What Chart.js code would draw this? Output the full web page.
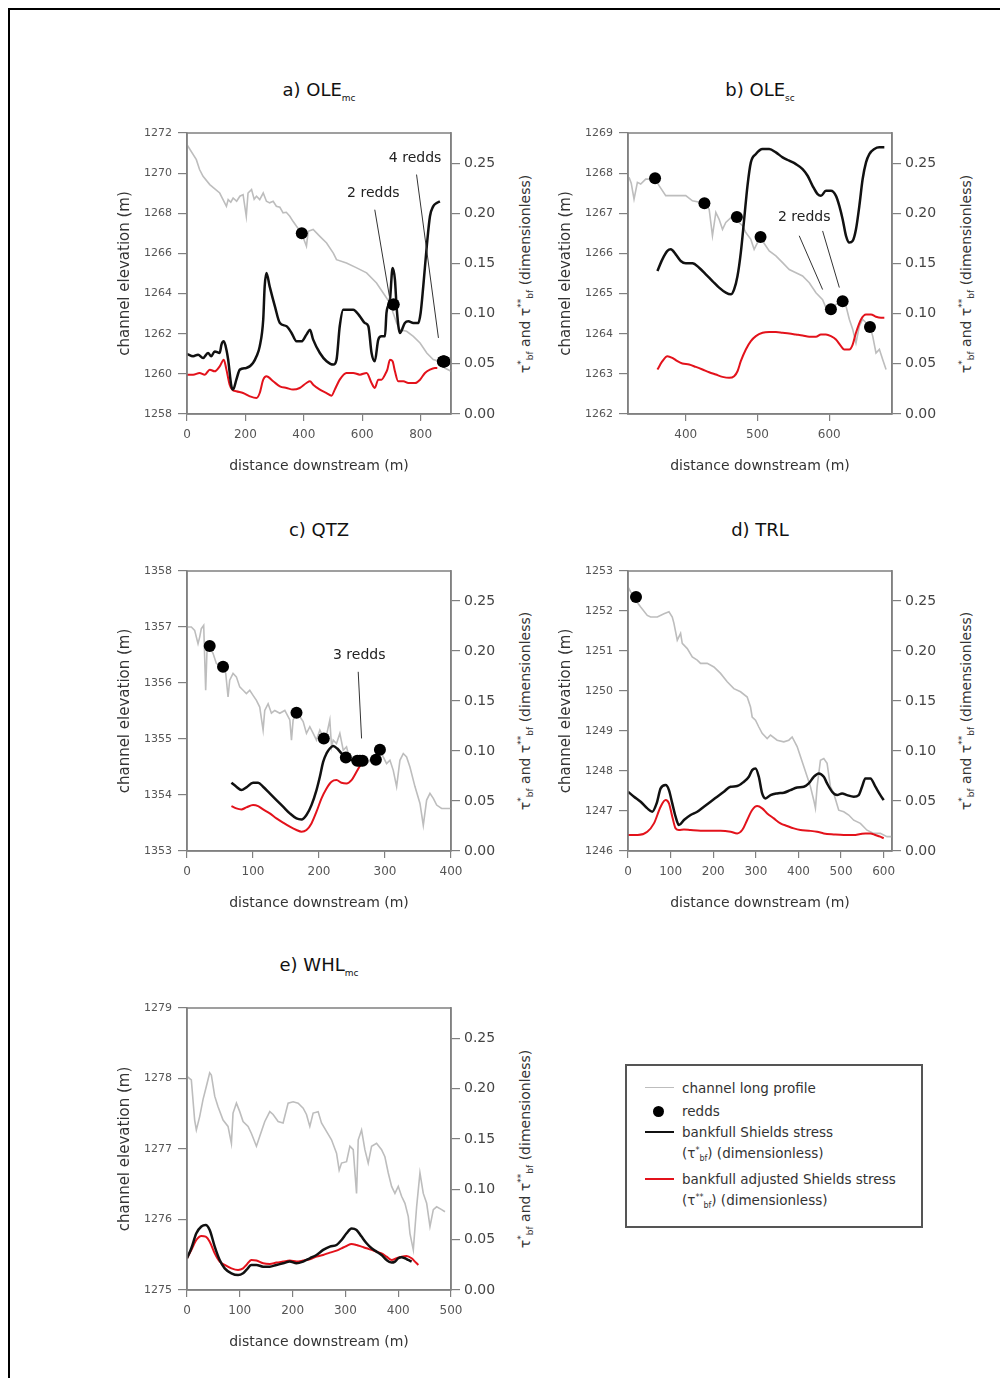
<!DOCTYPE html>
<html>
<head>
<meta charset="utf-8">
<script src="https://cdn.jsdelivr.net/npm/chart.js@4.4.0/dist/chart.umd.min.js"></script>
<style>
  body { margin: 0; background: #fff; width: 1000px; height: 1378px; overflow: hidden; position: relative; font-family: 'DejaVu Sans', sans-serif; color: #222; }
  .frame { position: absolute; left: 8px; top: 8px; width: 1000px; height: 1400px; border-left: 2px solid #000; border-top: 2px solid #000; }
  .ptitle { position: absolute; transform: translate(-50%, -50%); font-size: 18px; color: #111; white-space: nowrap; }
  .ptitle sub { font-size: 9px; vertical-align: -5px; }
  .rtitle { position: absolute; transform: translate(-50%, -50%) rotate(-90deg); font-size: 14px; color: #333; white-space: nowrap; }
  .rtitle sup { font-size: 9px; vertical-align: 6px; }
  .rtitle sub { font-size: 9px; vertical-align: -3px; }
  .legend { position: absolute; left: 625px; top: 1064px; width: 294px; height: 160px; border: 2px solid #555; }
  .legend .t { position: absolute; left: 55px; font-size: 13.5px; color: #333; white-space: nowrap; transform: translateY(-50%); }
  .legend .t sup { font-size: 8px; vertical-align: 5px; }
  .legend .t sub { font-size: 8px; vertical-align: -3px; }
  .legend .ln { position: absolute; left: 18px; width: 29px; height: 0; }
  .legend .dot { position: absolute; left: 26px; width: 11px; height: 11px; border-radius: 50%; background: #000; }
</style>
</head>
<body>
<div class="frame"></div>

<script>
// ---- a) OLE main channel ----
const aTicksX = [0, 200, 400, 600, 800];
const aTicksY = [1258, 1260, 1262, 1264, 1266, 1268, 1270, 1272];
const aProfile = [[0,1271.42],[32,1270.67],[43,1270.18],[55,1269.84],[78,1269.43],[112,1269.01],[135,1268.35],[141,1268.68],[150,1268.55],[158,1268.76],[170,1268.6],[181,1268.85],[192,1268.93],[203,1267.85],[209,1269.01],[221,1269.18],[230,1268.7],[238,1268.85],[249,1268.68],[261,1269.01],[272,1268.6],[283,1268.52],[295,1268.6],[306,1268.35],[318,1268.3],[329,1268.02],[340,1268.05],[352,1267.85],[363,1267.6],[375,1267.35],[392,1267.02],[409,1266.36],[415,1267.1],[432,1267.19],[455,1266.85],[478,1266.52],[501,1266.02],[512,1265.69],[546,1265.52],[581,1265.28],[615,1265.03],[649,1264.53],[672,1264.03],[695,1263.53],[706,1263.03],[718,1262.53],[729,1262.2],[752,1262.12],[775,1261.87],[798,1261.54],[821,1261.04],[843,1260.71],[866,1260.62],[883,1260.29],[904,1260.13]];
const aRedds = [[393,1267.0],[706,1263.45],[708,1263.45],[876,1260.62],[878,1260.62],[880,1260.62],[882,1260.62]];
const aShields = [[0,0.0598],[21,0.0575],[38,0.0591],[55,0.0558],[72,0.0608],[83,0.0575],[95,0.0624],[112,0.0608],[118,0.0691],[126,0.0724],[135,0.0641],[141,0.0541],[152,0.0276],[158,0.0243],[169,0.0342],[181,0.0442],[203,0.0458],[226,0.0508],[238,0.0575],[249,0.0674],[261,0.094],[266,0.1272],[272,0.1405],[283,0.1272],[301,0.1073],[318,0.0907],[341,0.0874],[358,0.0807],[375,0.0724],[392,0.0724],[409,0.0791],[421,0.084],[432,0.0741],[455,0.0608],[478,0.0525],[501,0.0492],[512,0.0541],[523,0.0874],[535,0.104],[569,0.104],[592,0.0973],[609,0.0907],[621,0.0874],[632,0.0608],[643,0.0525],[655,0.0741],[666,0.0774],[678,0.0774],[683,0.1006],[695,0.1139],[704,0.1455],[712,0.1339],[718,0.1056],[729,0.0807],[746,0.0907],[758,0.0923],[775,0.0907],[792,0.0907],[800,0.1006],[809,0.1272],[821,0.1671],[832,0.197],[843,0.2069],[855,0.2103],[866,0.2119]];
const aAdjusted = [[0,0.0392],[21,0.0392],[43,0.0409],[61,0.0392],[78,0.0442],[95,0.0425],[112,0.0475],[126,0.0541],[135,0.0442],[146,0.0292],[155,0.0243],[169,0.0226],[192,0.0209],[215,0.0176],[238,0.0159],[249,0.0209],[261,0.0342],[272,0.0375],[295,0.0326],[318,0.0276],[341,0.0259],[363,0.0243],[386,0.0259],[409,0.0309],[421,0.0326],[432,0.0292],[455,0.0243],[478,0.0209],[495,0.0183],[506,0.0243],[523,0.0342],[546,0.0409],[569,0.0409],[592,0.0392],[615,0.0409],[632,0.0309],[643,0.0259],[655,0.0342],[666,0.0342],[678,0.0392],[686,0.0442],[695,0.0541],[704,0.0525],[712,0.0425],[723,0.0326],[741,0.0326],[758,0.0309],[781,0.0309],[798,0.0342],[815,0.0409],[832,0.0442],[849,0.0458],[857,0.0458]];
const aNoteText = ['2 redds', '4 redds'];
const aNoteAt = [[638,1269.01],[781,1270.76]];
const aLeaders = [[[643,1268.18],[695,1263.7]], [[786,1269.93],[861,1261.79]]];

// ---- b) OLE side channel ----
const bTicksX = [400, 500, 600];
const bTicksY = [1262, 1263, 1264, 1265, 1266, 1267, 1268, 1269];
const bProfile = [[320.9,1267.9],[324,1267.75],[327.9,1267.35],[332.6,1267.77],[337.2,1267.73],[344.2,1267.85],[351.2,1267.85],[357.2,1267.87],[362.8,1267.69],[372.1,1267.44],[386,1267.44],[400,1267.44],[409.3,1267.31],[420.9,1267.27],[426,1267.25],[432.6,1267.1],[437.2,1266.44],[441.9,1267.02],[446.5,1266.85],[451.2,1266.6],[455.8,1266.77],[462.8,1266.89],[471.2,1266.91],[474.4,1266.77],[479.1,1266.69],[483.7,1266.52],[490.7,1266.35],[495.3,1266.1],[500,1266.27],[504.2,1266.41],[507,1266.31],[516.3,1266.06],[525.6,1265.94],[534.9,1265.77],[544.2,1265.6],[553.5,1265.52],[562.8,1265.44],[572.1,1265.27],[581.4,1265.02],[590.7,1264.85],[595.3,1264.65],[602.3,1264.61],[609.3,1264.73],[618.6,1264.81],[623.3,1264.69],[627.9,1264.36],[632.6,1264.11],[637.2,1263.77],[641.9,1264.19],[646.5,1264.36],[656.7,1264.17],[660.5,1263.94],[665.1,1263.52],[669.8,1263.61],[674.4,1263.36],[679.1,1263.11]];
const bRedds = [[357.2,1267.87],[426,1267.25],[471.2,1266.91],[504.2,1266.41],[602.3,1264.61],[618.6,1264.81],[656.7,1264.17]];
const bShields = [[360.5,0.1425],[367.4,0.1541],[374.4,0.1625],[379.1,0.1641],[386,0.1591],[393,0.1525],[400,0.1502],[409.3,0.1502],[418.6,0.1458],[427.9,0.1392],[437.2,0.1325],[446.5,0.1259],[455.8,0.1209],[462.8,0.1192],[467.4,0.1242],[472.1,0.1375],[476.7,0.1608],[481.4,0.1941],[486,0.2274],[490.7,0.2507],[497.7,0.259],[507,0.264],[516.3,0.264],[525.6,0.2607],[534.9,0.2557],[544.2,0.2524],[553.5,0.249],[562.8,0.244],[569.8,0.2374],[576.7,0.2274],[583.7,0.2191],[588.4,0.2174],[595.3,0.2224],[602.3,0.2224],[609.3,0.2174],[614,0.2074],[618.6,0.1941],[623.3,0.1775],[627.9,0.1708],[632.6,0.1725],[637.2,0.1841],[641.9,0.2074],[646.5,0.2341],[651.2,0.2507],[655.8,0.259],[662.8,0.264],[669.8,0.2657],[676.7,0.2657]];
const bAdjusted = [[360.5,0.0443],[367.4,0.0526],[374.4,0.0576],[381.4,0.0559],[388.4,0.0526],[395.3,0.0503],[404.7,0.0493],[414,0.0469],[423.3,0.0443],[432.6,0.0416],[441.9,0.0393],[451.2,0.037],[460.5,0.036],[467.4,0.0376],[472.1,0.0426],[476.7,0.0526],[483.7,0.0643],[490.7,0.0726],[497.7,0.0776],[507,0.0809],[516.3,0.0816],[525.6,0.0816],[534.9,0.0809],[544.2,0.0802],[553.5,0.0792],[562.8,0.0782],[572.1,0.0769],[581.4,0.0769],[588.4,0.0792],[595.3,0.0792],[602.3,0.0776],[609.3,0.0742],[616.3,0.0676],[620.9,0.0643],[627.9,0.0643],[632.6,0.0692],[637.2,0.0809],[644.2,0.0942],[651.2,0.0992],[658.1,0.0992],[665.1,0.0969],[672.1,0.0959],[676.7,0.0959]];
const bNoteText = ['2 redds'];
const bNoteAt = [[565.1,1266.89]];
const bLeaders = [[[558.1,1266.44],[590.7,1265.1]], [[590.7,1266.56],[614,1265.15]]];

// ---- c) QTZ ----
const cTicksX = [0, 100, 200, 300, 400];
const cTicksY = [1353, 1354, 1355, 1356, 1357, 1358];
const cProfile = [[0,1357],[6.6,1357],[11.6,1356.94],[16.7,1356.7],[19.2,1356.82],[21.7,1356.97],[25.3,1357.03],[28.3,1355.87],[30.3,1356.58],[34.4,1356.64],[39.4,1356.53],[44.5,1356.35],[54.6,1356.29],[58.7,1356.17],[62.2,1355.75],[64.7,1356.05],[69.8,1356.17],[74.8,1356.11],[79.9,1355.93],[85,1355.87],[90,1355.81],[95.1,1355.87],[100.1,1355.78],[105.2,1355.69],[110.2,1355.57],[115.3,1355.16],[117.8,1355.51],[122.9,1355.63],[127.9,1355.46],[133,1355.51],[140.6,1355.46],[148.2,1355.51],[155.8,1355.34],[158.3,1354.98],[160.8,1355.34],[165.9,1355.47],[170.9,1355.4],[176,1355.31],[181,1355.1],[186.1,1355.22],[191.2,1355.1],[196.2,1354.98],[201.3,1355.16],[206.3,1355.04],[211.4,1355.07],[216.4,1355.34],[219,1354.86],[221.5,1354.98],[226.5,1354.92],[231.6,1355.1],[236.7,1354.8],[241.7,1354.86],[246.8,1354.62],[251.8,1354.65],[264.5,1354.61],[272.1,1354.56],[279.6,1354.65],[286.2,1354.63],[292.3,1354.81],[297.3,1354.68],[302.4,1354.56],[307.5,1354.62],[312.5,1354.44],[317.6,1354.15],[322.6,1354.62],[327.7,1354.74],[332.7,1354.68],[337.8,1354.5],[345.4,1354.15],[353,1353.85],[358,1353.46],[363.1,1353.91],[368.1,1354.03],[373.2,1353.94],[378.3,1353.82],[385.8,1353.76],[400,1353.76]];
const cRedds = [[34.4,1356.66],[54.6,1356.29],[165.9,1355.47],[207.3,1355.01],[240.7,1354.67],[258,1354.61],[262,1354.61],[266,1354.61],[286.2,1354.63],[292.3,1354.81]];
const cShields = [[67.3,0.0683],[74.8,0.0643],[82.4,0.0609],[90,0.0636],[100.1,0.0683],[107.7,0.0683],[115.3,0.0643],[125.4,0.0576],[135.5,0.0509],[145.6,0.0443],[155.8,0.0376],[165.9,0.0326],[173.5,0.0316],[181,0.036],[188.6,0.0459],[196.2,0.0609],[201.3,0.0742],[206.3,0.0892],[211.4,0.0976],[216.4,0.1025],[221.5,0.1049],[227.6,0.1025],[234.1,0.0976],[241.7,0.0936],[249.3,0.0909],[256.9,0.0902],[267,0.0926]];
const cAdjusted = [[67.3,0.0449],[74.8,0.0426],[82.4,0.0416],[90,0.0436],[100.1,0.0459],[107.7,0.0449],[115.3,0.0416],[125.4,0.0376],[135.5,0.0326],[145.6,0.0283],[155.8,0.0243],[165.9,0.021],[173.5,0.0193],[181,0.021],[188.6,0.0276],[196.2,0.0393],[203.8,0.0526],[211.4,0.0626],[219,0.0693],[226.5,0.0709],[234.1,0.0683],[241.7,0.0676],[249.3,0.0709],[256.9,0.0792],[264.5,0.0876],[267,0.0892]];
const cNoteText = ['3 redds'];
const cNoteAt = [[261,1356.5]];
const cLeaders = [[[259.4,1356.2],[264.5,1355.01]]];

// ---- d) TRL ----
const dTicksX = [0, 100, 200, 300, 400, 500, 600];
const dTicksY = [1246, 1247, 1248, 1249, 1250, 1251, 1252, 1253];
const dProfile = [[0,1252.6],[6.3,1252.48],[18,1252.27],[29.7,1252.1],[45.3,1251.89],[53.1,1251.85],[68.8,1251.85],[84.4,1251.93],[96.1,1251.98],[103.9,1251.85],[107.8,1251.69],[115.6,1251.27],[123.4,1251.44],[127.3,1251.19],[139.1,1251.06],[150.8,1250.85],[162.5,1250.77],[170.3,1250.69],[185.9,1250.69],[201.6,1250.6],[217.2,1250.44],[232.8,1250.23],[248.4,1250.06],[264.1,1249.98],[279.7,1249.85],[287.5,1249.6],[291.4,1249.35],[299.2,1249.27],[307,1249.1],[314.8,1248.94],[326.6,1248.81],[334.4,1248.9],[350,1248.77],[365.6,1248.73],[377.3,1248.77],[385.2,1248.85],[396.9,1248.61],[404.7,1248.36],[412.5,1248.11],[420.3,1247.86],[428.1,1247.61],[435.9,1247.27],[439.8,1247.07],[443.8,1247.61],[451.6,1248.27],[459.4,1248.31],[467.2,1248.19],[475,1247.61],[482.8,1247.44],[494.5,1247.02],[506.3,1246.98],[518,1246.9],[529.7,1246.77],[545.3,1246.69],[560.9,1246.52],[576.6,1246.44],[592.2,1246.44],[607.8,1246.36],[619.5,1246.36]];
const dRedds = [[18.8,1252.35]];
const dShields = [[0,0.0593],[14.1,0.0543],[29.7,0.0493],[45.3,0.0426],[57,0.0393],[67.2,0.0476],[76.6,0.0626],[88.3,0.0659],[96.1,0.0609],[103.9,0.0476],[111.7,0.0343],[119.5,0.026],[131.3,0.031],[146.9,0.036],[162.5,0.0393],[178.1,0.0443],[193.8,0.0493],[209.4,0.0543],[225,0.0593],[240.6,0.0643],[256.3,0.0649],[271.9,0.0693],[283.6,0.0742],[291.4,0.0809],[299.2,0.0826],[307,0.0742],[314.8,0.0576],[322.7,0.0526],[334.4,0.0559],[350,0.0576],[365.6,0.0583],[381.3,0.0609],[396.9,0.0636],[412.5,0.0643],[424.2,0.0676],[435.9,0.0742],[447.7,0.0776],[459.4,0.0742],[467.2,0.0676],[478.9,0.0593],[490.6,0.0559],[502.3,0.0576],[514.1,0.0559],[529.7,0.0543],[541.4,0.0559],[549.2,0.0643],[557,0.0726],[568.8,0.0726],[580.5,0.0643],[592.2,0.0559],[600,0.0509]];
const dAdjusted = [[0,0.016],[22.7,0.016],[45.3,0.0193],[60.9,0.0276],[76.6,0.0443],[88.3,0.0509],[96.1,0.0476],[103.9,0.0343],[111.7,0.0226],[119.5,0.021],[131.3,0.0216],[146.9,0.021],[170.3,0.0203],[193.8,0.0203],[217.2,0.0203],[240.6,0.0193],[256.3,0.0176],[268,0.021],[279.7,0.031],[291.4,0.041],[303.1,0.0449],[314.8,0.0426],[326.6,0.0376],[342.2,0.0326],[357.8,0.0276],[373.4,0.025],[389.1,0.0226],[404.7,0.021],[424.2,0.0203],[443.8,0.0193],[459.4,0.0176],[482.8,0.0166],[506.3,0.016],[529.7,0.016],[545.3,0.017],[557,0.0176],[568.8,0.0176],[580.5,0.016],[592.2,0.0143],[600,0.0127]];

// ---- e) WHL main channel ----
const eTicksX = [0, 100, 200, 300, 400, 500];
const eTicksY = [1275, 1276, 1277, 1278, 1279];
const eProfile = [[0,1278.03],[8.2,1277.98],[14.5,1277.41],[17.7,1277.27],[24,1277.46],[30.3,1277.7],[36.7,1277.89],[43,1278.08],[46.1,1278.05],[52.5,1277.75],[58.8,1277.6],[68.3,1277.41],[77.7,1277.32],[84.1,1277.08],[87.2,1277.51],[93.6,1277.65],[99.9,1277.53],[106.2,1277.39],[115.7,1277.32],[122,1277.22],[131.5,1277.04],[137.8,1277.18],[147.3,1277.39],[156.8,1277.53],[163.1,1277.49],[172.6,1277.39],[182,1277.37],[191.5,1277.65],[201,1277.67],[210.5,1277.65],[220,1277.58],[226.3,1277.49],[232.6,1277.32],[238.9,1277.51],[248.4,1277.53],[254.7,1277.37],[264.2,1277.25],[273.7,1277.13],[283.2,1276.94],[288.2,1276.7],[292.7,1276.8],[302.2,1276.82],[308.5,1277.04],[314.8,1276.99],[321.1,1276.37],[324.3,1277.13],[330.6,1277.27],[336.9,1276.99],[343.2,1276.8],[349.6,1277.04],[359,1277.08],[368.5,1276.99],[374.8,1276.89],[381.2,1276.66],[387.5,1276.47],[393.8,1276.37],[400.1,1276.47],[406.4,1276.33],[412.8,1276.23],[419.1,1276.04],[422.3,1275.8],[428.6,1275.57],[434.9,1276.18],[441.2,1276.66],[447.5,1276.37],[453.9,1276.23],[460.2,1275.9],[466.5,1276.14],[472.8,1276.18],[482.3,1276.14],[488.6,1276.11]];
const eRedds = [];
const eShields = [[0,0.0315],[8.2,0.0414],[17.7,0.0563],[27.2,0.063],[35.4,0.0646],[43,0.0596],[52.5,0.0431],[61.9,0.0298],[71.4,0.0215],[84.1,0.0166],[96.7,0.0149],[106.2,0.0166],[112.5,0.0199],[122,0.0249],[131.5,0.0249],[144.1,0.0232],[156.8,0.0232],[169.4,0.0249],[182,0.0265],[194.7,0.0282],[207.3,0.0265],[220,0.0282],[232.6,0.0315],[245.3,0.0348],[257.9,0.0398],[270.5,0.0431],[283.2,0.0447],[292.7,0.0497],[302.2,0.0563],[311.6,0.061],[321.1,0.0596],[330.6,0.053],[340.1,0.0464],[349.6,0.0414],[359,0.0381],[368.5,0.0348],[378,0.0298],[387.5,0.0272],[393.8,0.0282],[400.1,0.0315],[406.4,0.0325],[412.8,0.0315],[419.1,0.0298],[425.4,0.0282]];
const eAdjusted = [[0,0.0315],[8.2,0.0398],[17.7,0.0497],[27.2,0.0537],[35.4,0.053],[43,0.048],[52.5,0.0364],[61.9,0.0282],[71.4,0.0249],[84.1,0.0215],[96.7,0.0199],[106.2,0.0215],[112.5,0.0249],[122,0.0298],[131.5,0.0292],[144.1,0.0265],[156.8,0.0258],[169.4,0.0272],[182,0.0282],[194.7,0.0292],[207.3,0.0282],[220,0.0292],[232.6,0.0305],[245.3,0.0331],[257.9,0.0348],[270.5,0.0371],[283.2,0.0391],[292.7,0.0414],[302.2,0.0437],[311.6,0.0457],[321.1,0.0447],[330.6,0.0431],[340.1,0.0414],[349.6,0.0398],[359,0.0381],[368.5,0.0364],[378,0.0331],[387.5,0.0298],[397,0.0315],[406.4,0.0331],[415.9,0.0338],[425.4,0.0315],[431.7,0.0282],[438.1,0.0249]];

// shared right axis (Shields stress)
const stressTicks = [0, 0.05, 0.10, 0.15, 0.20, 0.25];
const stressRange = [0, 0.28];

Chart.defaults.font.family = "'DejaVu Sans', sans-serif";
Chart.defaults.color = '#444';

const AXIS = '#808080';
const LEFT_W = 71, RIGHT_W = 59, TOP_PAD = 13, BOTTOM_H = 61;

const toXY = arr => arr.map(p => ({ x: p[0], y: p[1] }));

// plot frame and "n redds" call-outs
const framePlugin = {
  id: 'frame',
  afterDraw(chart, args, opts) {
    const { ctx, chartArea: a, scales } = chart;
    ctx.save();
    ctx.strokeStyle = AXIS;
    ctx.lineWidth = 1.5;
    ctx.strokeRect(a.left, a.top, a.right - a.left, a.bottom - a.top);
    ctx.strokeStyle = '#333';
    ctx.lineWidth = 1;
    (opts.leaders || []).forEach(seg => {
      ctx.beginPath();
      ctx.moveTo(scales.x.getPixelForValue(seg[0][0]), scales.y.getPixelForValue(seg[0][1]));
      ctx.lineTo(scales.x.getPixelForValue(seg[1][0]), scales.y.getPixelForValue(seg[1][1]));
      ctx.stroke();
    });
    ctx.fillStyle = '#222';
    ctx.font = "14px 'DejaVu Sans'";
    ctx.textAlign = 'center';
    ctx.textBaseline = 'middle';
    (opts.texts || []).forEach((t, i) => {
      const at = opts.at[i];
      ctx.fillText(t, scales.x.getPixelForValue(at[0]), scales.y.getPixelForValue(at[1]));
    });
    ctx.restore();
  }
};

function addText(cls, html, x, y) {
  const el = document.createElement('div');
  el.className = cls;
  el.innerHTML = html;
  el.style.left = x + 'px';
  el.style.top = y + 'px';
  document.body.appendChild(el);
}

const STRESS_TITLE = 'τ<sup>*</sup><sub>bf</sub> and τ<sup>**</sup><sub>bf</sub> (dimensionless)';

function panel(p) {
  const [L, T, R, B] = p.plot;
  const cv = document.createElement('canvas');
  const w = R - L + LEFT_W + RIGHT_W, h = B - T + TOP_PAD + BOTTOM_H;
  cv.width = w; cv.height = h;
  cv.style.cssText = `position:absolute;left:${L - LEFT_W}px;top:${T - TOP_PAD}px;width:${w}px;height:${h}px`;
  document.body.appendChild(cv);

  addText('ptitle', p.title, (L + R) / 2, T - 42);
  addText('rtitle', STRESS_TITLE, R + 74, (T + B) / 2);

  const tickGrid = { drawOnChartArea: false, drawTicks: true, color: AXIS, lineWidth: 1.2 };
  new Chart(cv, {
    type: 'line',
    data: {
      datasets: [
        { label: 'redds', type: 'scatter', data: toXY(p.redds), yAxisID: 'y',
          pointRadius: 6, pointBackgroundColor: '#000', pointBorderWidth: 0, showLine: false },
        { label: 'bankfull Shields stress', data: toXY(p.shields), yAxisID: 'y1',
          borderColor: '#111', borderWidth: 2.5, pointRadius: 0, cubicInterpolationMode: 'monotone' },
        { label: 'bankfull adjusted Shields stress', data: toXY(p.adjusted), yAxisID: 'y1',
          borderColor: '#e3121b', borderWidth: 2, pointRadius: 0, cubicInterpolationMode: 'monotone' },
        { label: 'channel long profile', data: toXY(p.profile), yAxisID: 'y',
          borderColor: '#bdbdbd', borderWidth: 1.6, pointRadius: 0, tension: 0 }
      ]
    },
    options: {
      responsive: false,
      animation: false,
      events: [],
      layout: { padding: { top: TOP_PAD, left: 0, right: 0, bottom: 0 } },
      plugins: {
        legend: { display: false },
        tooltip: { enabled: false },
        frame: { leaders: p.leaders, texts: p.notes, at: p.noteAt }
      },
      scales: {
        x: {
          type: 'linear', min: p.xRange[0], max: p.xRange[1],
          afterBuildTicks: s => { s.ticks = p.xTicks.map(v => ({ value: v })); },
          afterFit: s => { s.height = BOTTOM_H; },
          grid: { ...tickGrid, tickLength: 7 },
          border: { display: true, color: AXIS, width: 1.5 },
          ticks: { font: { size: 12 }, color: '#555', padding: 7 },
          title: { display: true, text: 'distance downstream (m)', font: { size: 14 }, color: '#333', padding: 0 }
        },
        y: {
          position: 'left', min: p.yTicks[0], max: p.yTicks[p.yTicks.length - 1],
          afterBuildTicks: s => { s.ticks = p.yTicks.map(v => ({ value: v })); },
          afterFit: s => { s.width = LEFT_W; },
          grid: { ...tickGrid, tickLength: 9 },
          border: { display: true, color: AXIS, width: 1.5 },
          ticks: { font: { size: 11 }, color: '#555', padding: 6, callback: v => String(v) },
          title: { display: true, text: 'channel elevation (m)', font: { size: 15 }, color: '#333', padding: 0 }
        },
        y1: {
          position: 'right', min: stressRange[0], max: stressRange[1],
          afterBuildTicks: s => { s.ticks = stressTicks.map(v => ({ value: v })); },
          afterFit: s => { s.width = RIGHT_W; },
          grid: { ...tickGrid, tickLength: 9 },
          border: { display: true, color: AXIS, width: 1.5 },
          ticks: { font: { size: 14 }, color: '#444', padding: 4, callback: v => v.toFixed(2) }
        }
      }
    },
    plugins: [framePlugin]
  });
}

panel({ title: 'a) OLE<sub>mc</sub>', plot: [187, 133, 451, 414], xRange: [0, 904], xTicks: aTicksX, yTicks: aTicksY,
        profile: aProfile, redds: aRedds, shields: aShields, adjusted: aAdjusted,
        notes: aNoteText, noteAt: aNoteAt, leaders: aLeaders });
panel({ title: 'b) OLE<sub>sc</sub>', plot: [628, 133, 892, 414], xRange: [319.5, 687.4], xTicks: bTicksX, yTicks: bTicksY,
        profile: bProfile, redds: bRedds, shields: bShields, adjusted: bAdjusted,
        notes: bNoteText, noteAt: bNoteAt, leaders: bLeaders });
panel({ title: 'c) QTZ', plot: [187, 571, 451, 851], xRange: [0, 400], xTicks: cTicksX, yTicks: cTicksY,
        profile: cProfile, redds: cRedds, shields: cShields, adjusted: cAdjusted,
        notes: cNoteText, noteAt: cNoteAt, leaders: cLeaders });
panel({ title: 'd) TRL', plot: [628, 571, 892, 851], xRange: [0, 619.5], xTicks: dTicksX, yTicks: dTicksY,
        profile: dProfile, redds: dRedds, shields: dShields, adjusted: dAdjusted });
panel({ title: 'e) WHL<sub>mc</sub>', plot: [187, 1008, 451, 1290], xRange: [0, 500], xTicks: eTicksX, yTicks: eTicksY,
        profile: eProfile, redds: eRedds, shields: eShields, adjusted: eAdjusted });
</script>

<div class="legend">
  <div class="ln" style="top:21px;border-top:1.5px solid #bdbdbd"></div>
  <div class="t" style="top:22px">channel long profile</div>
  <div class="dot" style="top:40px"></div>
  <div class="t" style="top:45px">redds</div>
  <div class="ln" style="top:65px;border-top:2.5px solid #111"></div>
  <div class="t" style="top:66px">bankfull Shields stress</div>
  <div class="t" style="top:88px">(τ<sup>*</sup><sub>bf</sub>) (dimensionless)</div>
  <div class="ln" style="top:112px;border-top:2px solid #e3121b"></div>
  <div class="t" style="top:113px">bankfull adjusted Shields stress</div>
  <div class="t" style="top:135px">(τ<sup>**</sup><sub>bf</sub>) (dimensionless)</div>
</div>
</body>
</html>
